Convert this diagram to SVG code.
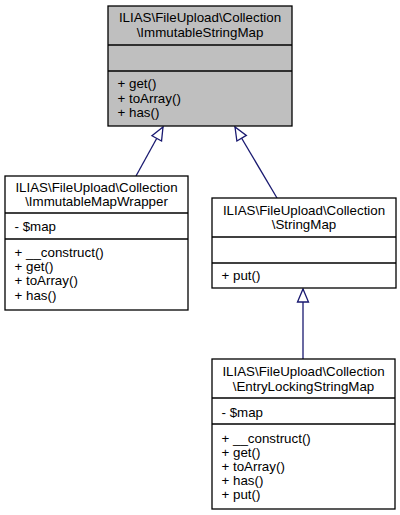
<svg xmlns="http://www.w3.org/2000/svg" width="400" height="515" viewBox="0 0 400 515">
<style>
text{font-family:"Liberation Sans",Arial,sans-serif;font-size:13.33px;fill:#000}
.c{text-anchor:middle}
.box{fill:#fff;stroke:#000;stroke-width:1.3}
.gray{fill:#bfbfbf}
.sep{stroke:#000;stroke-width:1.3}
.edge{fill:none;stroke:#191970;stroke-width:1.3}
</style>
<defs>
<marker id="tri" markerUnits="userSpaceOnUse" markerWidth="16" markerHeight="14" refX="14" refY="7" orient="auto" overflow="visible">
<path d="M1,1.5 L14,7 L1,12.5 Z" fill="#fff" stroke="#191970" stroke-width="1.3"/>
</marker>
</defs>
<rect width="400" height="515" fill="#fff"/>
<g id="edges">
<path class="edge" d="M136,176 L163,127" marker-end="url(#tri)"/>
<path class="edge" d="M277,198 L235,127" marker-end="url(#tri)"/>
<path class="edge" d="M303,359 L303,289" marker-end="url(#tri)"/>
</g>
<g id="ImmutableStringMap">
<rect class="box gray" x="108" y="6" width="184" height="120"/>
<line class="sep" x1="108" y1="45" x2="292" y2="45"/>
<line class="sep" x1="108" y1="71" x2="292" y2="71"/>
<text class="c" x="200" y="22">ILIAS\FileUpload\Collection</text>
<text class="c" x="200" y="36.5">\ImmutableStringMap</text>
<text x="117.5" y="88">+ get()</text>
<text x="117.5" y="102.5">+ toArray()</text>
<text x="117.5" y="117">+ has()</text>
</g>
<g id="ImmutableMapWrapper">
<rect class="box" x="5" y="176" width="183" height="134"/>
<line class="sep" x1="5" y1="213" x2="188" y2="213"/>
<line class="sep" x1="5" y1="239" x2="188" y2="239"/>
<text class="c" x="96.5" y="192">ILIAS\FileUpload\Collection</text>
<text class="c" x="96.5" y="206">\ImmutableMapWrapper</text>
<text x="14.5" y="230.5">- $map</text>
<text x="14.5" y="256.5">+ __construct()</text>
<text x="14.5" y="271">+ get()</text>
<text x="14.5" y="285">+ toArray()</text>
<text x="14.5" y="299.5">+ has()</text>
</g>
<g id="StringMap">
<rect class="box" x="212" y="198" width="184" height="90"/>
<line class="sep" x1="212" y1="237" x2="396" y2="237"/>
<line class="sep" x1="212" y1="263" x2="396" y2="263"/>
<text class="c" x="304" y="214.5">ILIAS\FileUpload\Collection</text>
<text class="c" x="304" y="229">\StringMap</text>
<text x="221.5" y="280">+ put()</text>
</g>
<g id="EntryLockingStringMap">
<rect class="box" x="212" y="359" width="183" height="150"/>
<line class="sep" x1="212" y1="398" x2="395" y2="398"/>
<line class="sep" x1="212" y1="424" x2="395" y2="424"/>
<text class="c" x="303.5" y="376">ILIAS\FileUpload\Collection</text>
<text class="c" x="303.5" y="390.5">\EntryLockingStringMap</text>
<text x="221.5" y="416.5">- $map</text>
<text x="221.5" y="442.5">+ __construct()</text>
<text x="221.5" y="456.5">+ get()</text>
<text x="221.5" y="471">+ toArray()</text>
<text x="221.5" y="485">+ has()</text>
<text x="221.5" y="499">+ put()</text>
</g>
</svg>
